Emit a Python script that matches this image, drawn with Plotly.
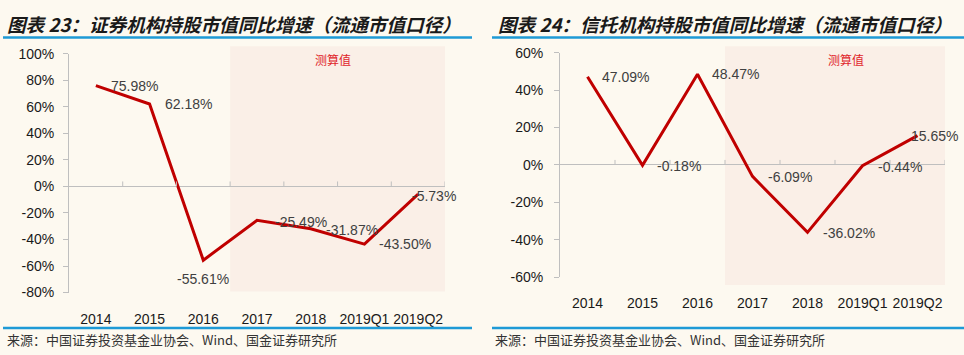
import plotly.graph_objects as go

# ---------------- data ----------------
categories = ["2014", "2015", "2016", "2017", "2018", "2019Q1", "2019Q2"]
sec_values = [75.98, 62.18, -55.61, -25.49, -31.87, -43.50, -5.73]
trust_values = [47.09, -0.18, 48.47, -6.09, -36.02, -0.44, 15.65]
sec_ticks = [100, 80, 60, 40, 20, 0, -20, -40, -60, -80]
trust_ticks = [60, 40, 20, 0, -20, -40, -60]
title_left = "图表 23：证券机构持股市值同比增速（流通市值口径）"
title_right = "图表 24：信托机构持股市值同比增速（流通市值口径）"
source_text = "来源：中国证券投资基金业协会、Wind、国金证券研究所"
estimate_text = "测算值"
estimate_start = "2017"

# ---------------- style ----------------
BG = "#FDF9F0"
SHADE = "#FAEFE7"
RED = "#C00000"
AXIS = "#BFBFBF"
BLUE = "#1E9AD6"
LABEL_FONT = dict(family="Liberation Sans, Arial, sans-serif", size=14, color="#404040")
TICK_FONT = dict(family="Liberation Sans, Arial, sans-serif", size=14, color="#1A1A1A")

# label offsets (pixels): (anchor, xshift, yshift)
sec_label_style = [("left", 13, 0), ("left", 13, 0), ("center", 0, -19), ("left", 16, -2),
                   ("left", 13, -1), ("left", 13, 0), ("left", -8, -2)]
trust_label_style = [("left", 12, 0), ("left", 12, -1), ("left", 12, 0), ("left", 13, -1),
                     ("left", 13, -1), ("left", 13, -1), ("left", -9, 0)]

fig = go.Figure()

fig.add_trace(go.Scatter(x=categories, y=sec_values, mode="lines",
                         line=dict(color=RED, width=3), xaxis="x", yaxis="y",
                         hoverinfo="skip", showlegend=False))
fig.add_trace(go.Scatter(x=categories, y=trust_values, mode="lines",
                         line=dict(color=RED, width=3), xaxis="x2", yaxis="y2",
                         hoverinfo="skip", showlegend=False))


def pct(v):
    return f"{v:.2f}%"


annotations = []
shapes = []

for xa, ya, vals, styles in (("x", "y", sec_values, sec_label_style),
                             ("x2", "y2", trust_values, trust_label_style)):
    for i, (v, (anc, xs, ys)) in enumerate(zip(vals, styles)):
        # category axis: position by category index
        annotations.append(dict(x=i, y=v, xref=xa, yref=ya, text=pct(v), showarrow=False,
                                xanchor=anc, yanchor="middle", xshift=xs, yshift=ys,
                                font=LABEL_FONT))
    # boundary tick marks on the zero line
    for k in range(len(categories)):
        shapes.append(dict(type="line", xref=xa, yref=ya, x0=k + 0.5, x1=k + 0.5,
                           ysizemode="pixel", yanchor=0, y0=0, y1=5,
                           line=dict(color=AXIS, width=1)))

# estimated-value shading
start_idx = categories.index(estimate_start)
shapes.append(dict(type="rect", xref="x", yref="y domain", x0=start_idx - 0.5,
                   x1=len(categories) - 0.5, y0=0.004, y1=1.032, fillcolor=SHADE,
                   line=dict(width=0), layer="below"))
shapes.append(dict(type="rect", xref="x2", yref="y2 domain", x0=start_idx - 0.5,
                   x1=len(categories) - 0.5, y0=-0.034, y1=1.028, fillcolor=SHADE,
                   line=dict(width=0), layer="below"))

# estimated-value text
annotations.append(dict(x=0.702, y=1, xref="x domain", yref="y domain", text=estimate_text,
                        showarrow=False, xanchor="center", yanchor="middle", yshift=-6,
                        font=dict(family="Noto Sans CJK SC", size=12, color="#E0262B")))
annotations.append(dict(x=0.743, y=1, xref="x2 domain", yref="y2 domain", text=estimate_text,
                        showarrow=False, xanchor="center", yanchor="middle", yshift=-7,
                        font=dict(family="Noto Sans CJK SC", size=12, color="#E0262B")))

# titles
for xpos, txt in ((5 / 964, title_left), (496 / 964, title_right)):
    annotations.append(dict(x=xpos, y=1 - 16 / 355, xref="paper", yref="paper",
                            text=f"<b><i>{txt}</i></b>", showarrow=False,
                            xanchor="left", yanchor="middle",
                            font=dict(family="Noto Sans CJK SC", size=18.6, color="#1A1A1A")))

# sources
for xpos in (5 / 964, 493 / 964):
    annotations.append(dict(x=xpos, y=1 - 347 / 355, xref="paper", yref="paper",
                            text=source_text, showarrow=False,
                            xanchor="left", yanchor="middle",
                            font=dict(family="Noto Sans CJK SC", size=13, color="#333333")))

# blue rules
for (x0, x1) in ((3, 472), (492, 964)):
    for yp in (31, 335):
        shapes.append(dict(type="line", xref="paper", yref="paper",
                           x0=x0 / 964, x1=x1 / 964, y0=1 - yp / 355, y1=1 - yp / 355,
                           line=dict(color=BLUE, width=2.5)))


def yaxis_common(ticks, rng, domain, standoff):
    return dict(range=rng, domain=domain, tickvals=ticks,
                ticktext=[f"{t}%" for t in ticks], showgrid=False,
                zeroline=True, zerolinecolor=AXIS, zerolinewidth=1,
                showline=True, linecolor=AXIS, linewidth=1,
                ticks="outside", ticklen=5, tickcolor=AXIS,
                ticklabelstandoff=standoff, tickfont=TICK_FONT, fixedrange=True)


def xaxis_common(domain):
    return dict(domain=domain, type="category", range=[-0.5, len(categories) - 0.5],
                showgrid=False, zeroline=False, showline=False, ticks="",
                ticklabelstandoff=16, tickfont=TICK_FONT, fixedrange=True)


fig.update_layout(
    width=964, height=355,
    margin=dict(l=0, r=0, t=0, b=0),
    paper_bgcolor=BG, plot_bgcolor=BG,
    showlegend=False,
    xaxis=dict(anchor="y", **xaxis_common([69 / 964, 445 / 964])),
    yaxis=dict(anchor="x", **yaxis_common(sec_ticks, [-80, 100],
                                          [1 - 298 / 355, 1 - 48 / 355], 6)),
    xaxis2=dict(anchor="y2", **xaxis_common([560 / 964, 945 / 964])),
    yaxis2=dict(anchor="x2", **yaxis_common(trust_ticks, [-60, 60],
                                            [1 - 282 / 355, 1 - 46.7 / 355], 8)),
    shapes=shapes,
    annotations=annotations,
)

fig.write_html(
    "out.html",
    config={"displayModeBar": False},
    post_script="document.body.style.margin='0';document.body.style.overflow='hidden';",
)
